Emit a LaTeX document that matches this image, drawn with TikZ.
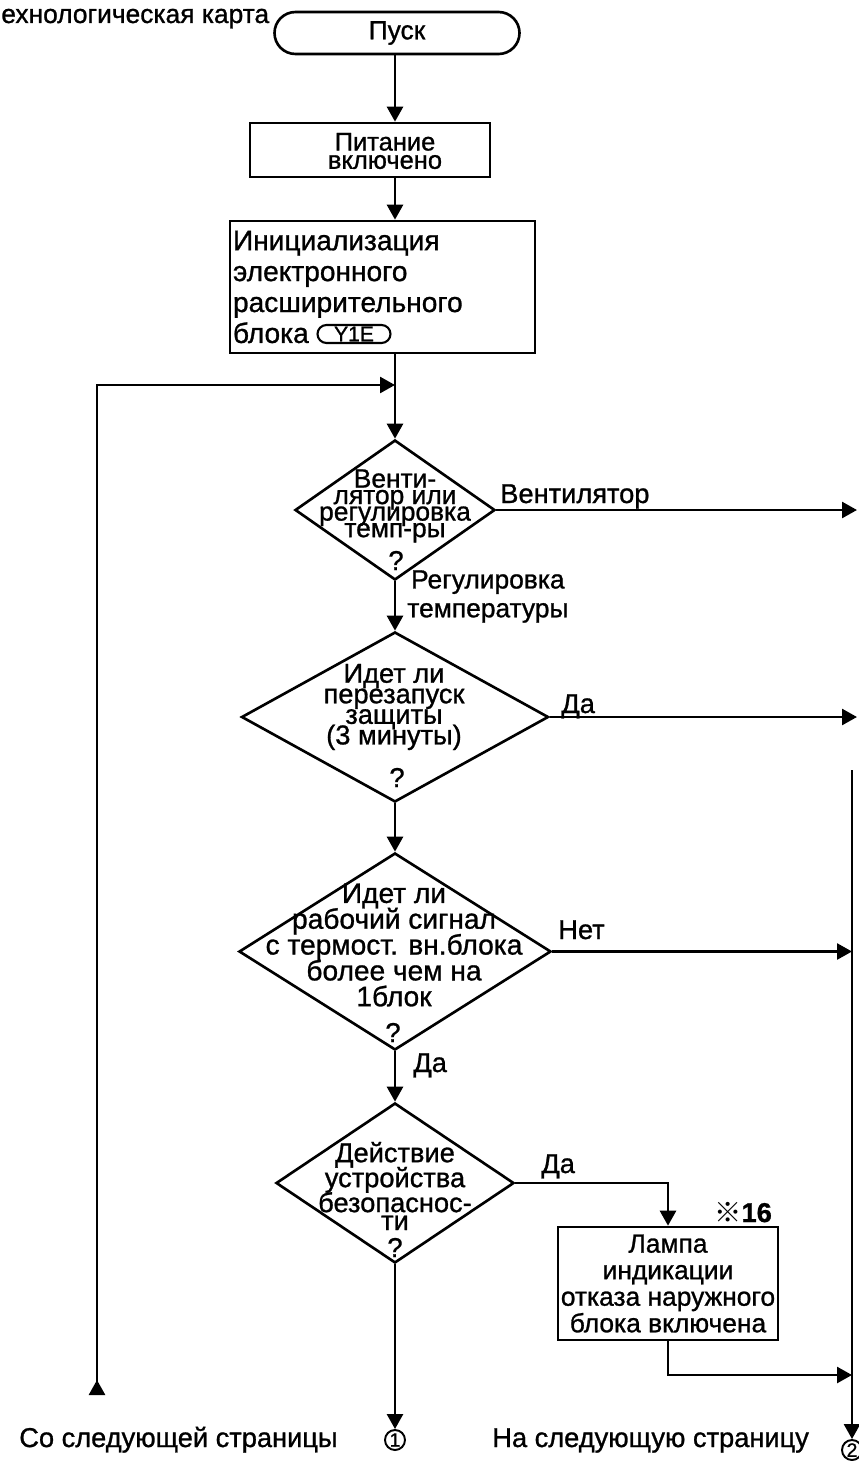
\documentclass[tikz,border=0pt]{standalone}
\usepackage{fontspec}
\setmainfont{Liberation Sans}[FakeBold=1]
\newfontfamily\cjkfont{Noto Sans CJK SC}
\usetikzlibrary{shapes.geometric,shapes.misc,arrows.meta}
\lineskiplimit=-\maxdimen

\begin{document}
\begin{tikzpicture}[x=0.2mm, y=-0.2mm, line width=1.5pt,
  >={Triangle[length=3mm,width=3.2mm]},
  box/.style={rectangle, draw, inner sep=0pt},
  term/.style={rounded rectangle, draw, inner sep=0pt, font=\fontsize{15pt}{17pt}\selectfont},
  dec/.style={diamond, draw, inner sep=0pt},
  txt/.style={align=center, inner sep=0pt, font=\fontsize{15.5pt}{#1}\selectfont},
  txt/.default=17pt,
  tag/.style={rounded rectangle, draw, line width=1.2pt, inner sep=0pt,
    minimum width=14.6mm, minimum height=3.6mm, font=\fontsize{12pt}{12pt}\selectfont},
  lab/.style={inner sep=0pt, anchor=base west, font=\fontsize{15.5pt}{17pt}\selectfont},
  conn/.style={circle, draw, line width=1.1pt, inner sep=0pt, minimum size=4mm,
    font=\fontsize{11pt}{11pt}\selectfont}]
  \useasboundingbox (0,0) rectangle (858,1461);

  \node[lab, font=\fontsize{15pt}{17pt}\selectfont] (title) at (0,23) {ехнологическая карта};
  \node[term, minimum width=49mm, minimum height=8.4mm] (start) at (397,33) {Пуск};
  \node[box, minimum width=48mm, minimum height=10.8mm] (pwr) at (370,150) {};
  \node[txt, font=\fontsize{14.5pt}{10.4pt}\selectfont] (pwrt) at (385,151) {Питание\\включено};
  \node[box, text width=59.8mm, inner xsep=0.6mm, minimum height=26.4mm, align=left,
    font=\fontsize{16pt}{17.6pt}\selectfont] (init) at (382.5,287)
    {Инициализация\\электронного\\расширительного\\блока};
  \node[tag] (y1e) at (354,334) {Y1E};

  \node[dec, minimum width=40mm, minimum height=28mm] (d1) at (395,510) {};
  \node[txt, font=\fontsize{15pt}{9.4pt}\selectfont] (d1t) at (395,506)
    {Венти-\\лятор или\\регулировка\\темп-ры};
  \node[lab, anchor=base] (q1) at (396,570) {?};

  \node[dec, minimum width=61.4mm, minimum height=34mm] (d2) at (395,717) {};
  \node[txt=11.7pt] (d2t) at (394,707) {Идет ли\\перезапуск\\защиты\\(3 минуты)};
  \node[lab, anchor=base] (q2) at (397,787) {?};

  \node[dec, minimum width=62.4mm, minimum height=39.4mm] (d3) at (395,951.5) {};
  \node[txt, font=\fontsize{16pt}{14.7pt}\selectfont] (d3t) at (394,945)
    {Идет ли\\рабочий сигнал\\с термост. вн.блока\\более чем на\\1блок};
  \node[lab, anchor=base] (q3) at (393,1042) {?};

  \node[dec, minimum width=47.6mm, minimum height=32mm] (d4) at (395,1183) {};
  \node[txt=14.2pt] (d4t) at (395,1186) {Действие\\устройства\\безопаснос-\\[-1.4mm]ти};
  \node[lab, anchor=base] (q4) at (395,1257) {?};

  \node[box, minimum width=44mm, minimum height=22.6mm, align=center,
    font=\fontsize{15pt}{15.1pt}\selectfont] (lamp) at (668,1283.5)
    {Лампа\\индикации\\отказа наружного\\блока включена};

  \node[conn] (c1) at (395,1440) {1};
  \node[conn] (c2) at (852,1450) {2};

  \node[lab] (lvent) at (499,503) {Вентилятор};
  \node[lab, anchor=north west, align=center, font=\fontsize{15pt}{16.4pt}\selectfont]
    (ltemp) at (406,569) {Регулировка\\температуры};
  \node[lab] (lyes1) at (560,713) {Да};
  \node[lab] (lno) at (557,939) {Нет};
  \node[lab] (lyes2) at (412,1072) {Да};
  \node[lab] (lyes3) at (540,1173) {Да};
  \node[lab] (note) at (713,1222) {{\cjkfont ※}\textbf{16}};
  \node[lab] (lfrom) at (18,1447) {Со следующей страницы};
  \node[lab] (lto) at (491,1447) {На следующую страницу};

  \coordinate (loop) at (395,385);
  \coordinate (back) at (97,1395);
  \coordinate (ventR) at (857,510);
  \coordinate (yesR) at (857,717);
  \coordinate (rtop) at (852,770);
  \coordinate (rl) at (852,1375);

  \draw[->] (d1 |- start.south) -- (d1 |- pwr.north);
  \draw[->] (d1 |- pwr.south) -- (d1 |- init.north);
  \draw[->] (d1 |- init.south) -- (d1);
  \draw[{Triangle[reversed,length=3mm,width=3.2mm]}->] (back) |- (loop);
  \draw[->] (d1) -- (ventR);
  \draw[->] (d1) -- (d2);
  \draw[->] (d2) -- (yesR);
  \draw[->] (d2) -- (d3);
  \draw[->] (d3) -- (d3 -| rtop);
  \draw[->] (d3) -- (d4);
  \draw[->] (d4) -| (lamp);
  \draw[->] (lamp) |- (rl);
  \draw[->] (d4) -- (c1);
  \draw[->] (rtop) -- (c2);
\end{tikzpicture}
\end{document}
